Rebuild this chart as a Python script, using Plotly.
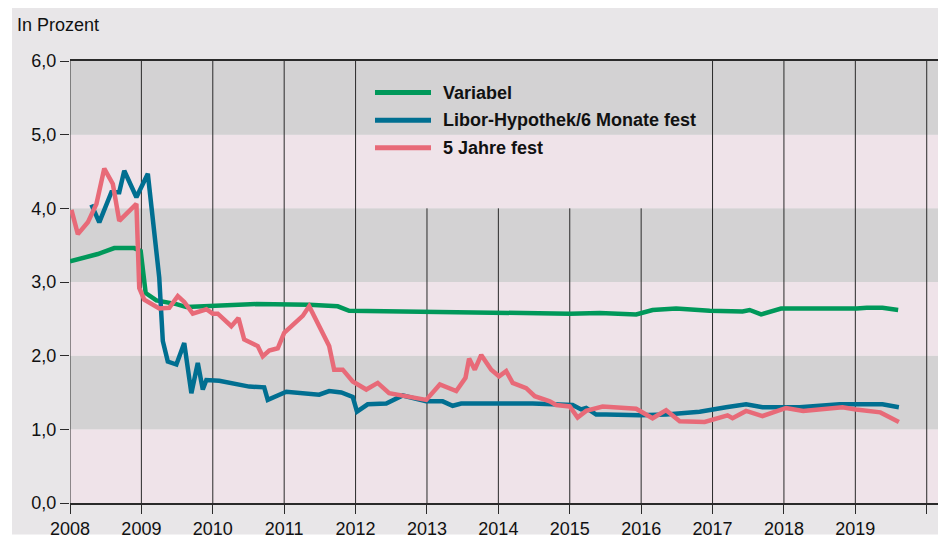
import plotly.graph_objects as go

# ---------------- data ----------------
variabel_x = [2008.00, 2008.39, 2008.62, 2008.90, 2008.99, 2009.02, 2009.06, 2009.21, 2009.35,
              2009.49, 2009.63, 2010.00, 2010.61, 2011.35, 2011.75, 2011.91, 2012.61, 2013.99,
              2014.86, 2015.00, 2015.42, 2015.93, 2016.16, 2016.49, 2016.96, 2017.42, 2017.52,
              2017.68, 2017.96, 2018.26, 2018.40, 2019.02, 2019.16, 2019.38, 2019.60]
variabel_y = [3.28, 3.38, 3.46, 3.46, 3.42, 3.15, 2.85, 2.75, 2.73,
              2.70, 2.66, 2.67, 2.70, 2.69, 2.67, 2.61, 2.60, 2.58,
              2.58, 2.57, 2.58, 2.56, 2.62, 2.64, 2.61, 2.60, 2.62,
              2.56, 2.64, 2.63, 2.64, 2.64, 2.65, 2.65, 2.62]

libor_x = [2008.30, 2008.41, 2008.58, 2008.69, 2008.76, 2008.93, 2009.09, 2009.25, 2009.30,
           2009.37, 2009.49, 2009.60, 2009.70, 2009.79, 2009.86, 2009.91, 2010.09, 2010.28,
           2010.51, 2010.72, 2010.77, 2011.03, 2011.49, 2011.63, 2011.80, 2011.96, 2012.02,
           2012.17, 2012.43, 2012.66, 2012.99, 2013.22, 2013.36, 2013.48, 2014.48, 2015.04,
           2015.16, 2015.23, 2015.37, 2015.51, 2015.98, 2016.35, 2016.82, 2017.19, 2017.47,
           2017.70, 2018.22, 2018.78, 2019.38, 2019.61]
libor_y = [4.05, 3.81, 4.22, 4.22, 4.51, 4.15, 4.47, 3.06, 2.20,
           1.92, 1.88, 2.17, 1.49, 1.90, 1.54, 1.67, 1.66, 1.63,
           1.58, 1.57, 1.40, 1.51, 1.47, 1.52, 1.50, 1.44, 1.24,
           1.34, 1.35, 1.46, 1.38, 1.38, 1.32, 1.35, 1.35, 1.33,
           1.27, 1.29, 1.20, 1.20, 1.19, 1.20, 1.24, 1.30, 1.34,
           1.30, 1.30, 1.34, 1.34, 1.30]

fest5_x = [2008.02, 2008.11, 2008.25, 2008.37, 2008.48, 2008.60, 2008.69, 2008.93, 2008.97,
           2009.04, 2009.25, 2009.39, 2009.51, 2009.60, 2009.72, 2009.91, 2010.00, 2010.07,
           2010.26, 2010.36, 2010.44, 2010.63, 2010.70, 2010.79, 2010.91, 2011.00, 2011.26,
           2011.35, 2011.63, 2011.70, 2011.82, 2011.96, 2012.15, 2012.31, 2012.47, 2012.66,
           2012.99, 2013.18, 2013.41, 2013.54, 2013.59, 2013.67, 2013.76, 2013.90, 2014.01,
           2014.11, 2014.20, 2014.39, 2014.51, 2014.72, 2014.81, 2015.00, 2015.11, 2015.23,
           2015.46, 2015.93, 2016.16, 2016.35, 2016.54, 2016.89, 2017.21, 2017.28, 2017.47,
           2017.70, 2018.03, 2018.27, 2018.82, 2019.01, 2019.35, 2019.61]
fest5_y = [3.98, 3.65, 3.81, 4.06, 4.54, 4.33, 3.83, 4.06, 2.92,
           2.76, 2.64, 2.65, 2.81, 2.73, 2.57, 2.63, 2.57, 2.57,
           2.40, 2.51, 2.22, 2.13, 1.99, 2.07, 2.10, 2.31, 2.54,
           2.67, 2.13, 1.81, 1.81, 1.65, 1.54, 1.63, 1.49, 1.46,
           1.40, 1.61, 1.52, 1.70, 1.96, 1.81, 2.01, 1.81, 1.72,
           1.79, 1.63, 1.56, 1.45, 1.38, 1.33, 1.31, 1.16, 1.25,
           1.31, 1.28, 1.15, 1.26, 1.11, 1.10, 1.19, 1.15, 1.25,
           1.18, 1.29, 1.25, 1.30, 1.27, 1.23, 1.10]

series_names = ["Variabel", "Libor-Hypothek/6 Monate fest", "5 Jahre fest"]
series_colors = ["#00985A", "#006F91", "#E86A78"]

year_ticks = list(range(2008, 2021))
year_labels = [str(y) for y in range(2008, 2020)] + [""]
y_ticks = [0, 1, 2, 3, 4, 5, 6]
y_labels = ["0,0", "1,0", "2,0", "3,0", "4,0", "5,0", "6,0"]

# ---------------- layout constants ----------------
OFF = 8                      # page body margin of the html page
W, H = 946 - OFF, 544 - OFF  # figure size so that it fits the window
# plot area in window pixel coords: x 70..941, y 61..501
ML, MR, MT, MB = 70 - OFF, 5, 61 - OFF, 43 - OFF
PW, PH = W - ML - MR, H - MT - MB
FONT = "Liberation Sans, Arial, Helvetica, sans-serif"
BG = "#E8E6E8"
BAND_GRAY = "#D3D2D3"
BAND_PINK = "#EFE3E9"
GRID = "#2A2A2A"


def px_x(p):
    """window pixel x -> paper fraction"""
    return (p - OFF - ML) / PW


def px_y(p):
    """window pixel y -> paper fraction"""
    return 1 - (p - OFF - MT) / PH


fig = go.Figure()
for xs, ys, name, col in zip([variabel_x, libor_x, fest5_x], [variabel_y, libor_y, fest5_y],
                             series_names, series_colors):
    fig.add_trace(go.Scatter(x=xs, y=ys, mode="lines", name=name,
                             line=dict(color=col, width=4.5), showlegend=False,
                             hoverinfo="skip"))

shapes = []
# outer grey panel (thin white border around)
shapes.append(dict(type="rect", xref="paper", yref="paper", x0=px_x(12), x1=px_x(960),
                   y0=px_y(541), y1=px_y(0), fillcolor=BG, line=dict(width=0), layer="below"))
# horizontal bands
for k in range(6):
    shapes.append(dict(type="rect", xref="paper", yref="y", x0=0, x1=1, y0=k, y1=k + 1,
                       fillcolor=BAND_GRAY if k % 2 == 1 else BAND_PINK,
                       line=dict(width=0), layer="below"))
# vertical year lines (hidden behind legend box for 2013-2016)
for yr in year_ticks:
    top = 4.0 if 2013 <= yr <= 2016 else 6.0
    shapes.append(dict(type="line", xref="x", yref="y", x0=yr, x1=yr, y0=0, y1=top,
                       line=dict(color=GRID, width=1), layer="below"))

# manual legend
annotations = []
legend_rows = [93, 121, 149]
for name, col, ry in zip(series_names, series_colors, legend_rows):
    shapes.append(dict(type="line", xref="paper", yref="paper", x0=px_x(375), x1=px_x(431),
                       y0=px_y(ry), y1=px_y(ry), line=dict(color=col, width=5)))
    annotations.append(dict(xref="paper", yref="paper", x=px_x(441), y=px_y(ry),
                            xanchor="left", yanchor="middle", text="<b>%s</b>" % name,
                            showarrow=False, font=dict(family=FONT, size=18, color="#111111")))

annotations.append(dict(xref="paper", yref="paper", x=px_x(15), y=px_y(25),
                        xanchor="left", yanchor="middle", text="In Prozent", showarrow=False,
                        font=dict(family=FONT, size=18, color="#111111")))

fig.update_layout(
    width=W, height=H,
    margin=dict(l=ML, r=MR, t=MT, b=MB),
    paper_bgcolor="white",
    plot_bgcolor="rgba(0,0,0,0)",
    shapes=shapes,
    annotations=annotations,
    showlegend=False,
    font=dict(family=FONT, size=18, color="#111111"),
    xaxis=dict(range=[2008, 2020.2], tickmode="array", tickvals=year_ticks, ticktext=year_labels,
               showgrid=False, zeroline=False, showline=True, linecolor=GRID, linewidth=1.5,
               mirror=True, ticks="outside", ticklen=9, tickwidth=1, tickcolor=GRID,
               tickfont=dict(family=FONT, size=18, color="#111111")),
    yaxis=dict(range=[0, 6], tickmode="array", tickvals=y_ticks, ticktext=y_labels,
               showgrid=False, zeroline=False, showline=False,
               ticks="outside", ticklen=9, tickwidth=1, tickcolor=GRID,
               tickfont=dict(family=FONT, size=18, color="#111111")),
)

fig.write_html("out.html")
